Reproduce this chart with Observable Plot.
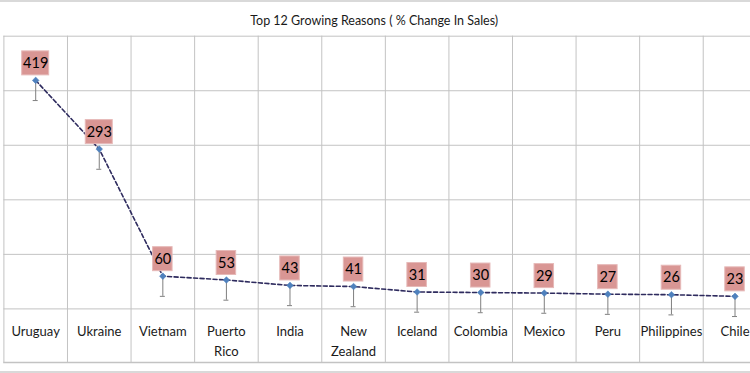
<!DOCTYPE html>
<html><head><meta charset="utf-8">
<script src="https://cdn.jsdelivr.net/npm/d3@7"></script>
<script src="https://cdn.jsdelivr.net/npm/@observablehq/plot@0.6"></script>
<style>
body{margin:0;background:#fff;}
#wrap{position:relative;width:750px;height:373px;overflow:hidden;background:#fff;}
#border{position:absolute;left:0;top:0;width:750px;height:373px;border-top:2px solid #d9d9d9;border-bottom:2px solid #d9d9d9;box-sizing:border-box;pointer-events:none}
</style></head><body>
<div id="wrap"><div id="chart"></div><div id="border"></div></div>
<script>
const title = "Top 12 Growing Reasons ( % Change In Sales)";
const categories = ["Uruguay","Ukraine","Vietnam","Puerto\nRico","India","New\nZealand","Iceland","Colombia","Mexico","Peru","Philippines","Chile"];
const values = [419,293,60,53,43,41,31,30,29,27,26,23];
const errors = [37,37,37,37,37,37,37,37,37,37,37,37];
const yTicks = [0,100,200,300,400,500];

const data = categories.map((c,i)=>({cat:c, value:values[i], err:errors[i]}));
const font = "Lato, 'Open Sans', sans-serif";
const xRange = [3.4, 766.3];
const bw = (xRange[1]-xRange[0])/categories.length;
const grid = "#c3c3c3";
const boxW3 = 27, boxW2 = 19.5;

const chart = Plot.plot({
  width: 750,
  height: 373,
  marginTop: 35.7,
  marginBottom: 11,
  marginLeft: 3.4,
  marginRight: 0,
  style: {fontFamily: font, background: "transparent", overflow: "hidden"},
  x: {type: "band", domain: categories, range: xRange, padding: 0, round: false, axis: null},
  y: {domain: [0, 500], range: [308.4, 35.7], axis: null},
  marks: [
    Plot.ruleY(yTicks, {stroke: grid, strokeWidth: 1}),
    Plot.ruleX(categories, {x: d => d, dx: -bw/2, stroke: grid, strokeWidth: 1}),
    Plot.frame({anchor: "bottom", stroke: grid, strokeWidth: 1.5}),
    Plot.text([title], {frameAnchor: "top", text: d => d, dy: -20.2, dx: -3, fontSize: 12.5, fill: "#1a1a1a"}),
    Plot.text(data, {x: "cat", text: "cat", frameAnchor: "bottom", lineAnchor: "top", dy: -40.5, fontSize: 13, lineHeight: 1.54, fill: "#1a1a1a"}),
    Plot.ruleX(data, {x: "cat", y1: "value", y2: d => d.value - d.err, stroke: "#7f7f7f", strokeWidth: 1}),
    Plot.tickY(data, {x: "cat", y: d => d.value - d.err, insetLeft: bw/2 - 2.5, insetRight: bw/2 - 2.5, stroke: "#7f7f7f", strokeWidth: 1}),
    Plot.line(data, {x: "cat", y: "value", stroke: "#2e2b5e", strokeWidth: 1.6, strokeDasharray: "4,2.5"}),
    Plot.dot(data, {x: "cat", y: "value", symbol: "diamond2", r: 3, fill: "#4f81bd", stroke: "#4f81bd", strokeWidth: 0.5}),
    Plot.barY(data.filter(d => String(d.value).length >= 3), {x: "cat", y1: "value", y2: "value", insetTop: -29, insetBottom: 5, insetLeft: (bw - boxW3)/2, insetRight: (bw - boxW3)/2, fill: "#d99694", stroke: "#e6b9b8", strokeWidth: 1}),
    Plot.barY(data.filter(d => String(d.value).length < 3), {x: "cat", y1: "value", y2: "value", insetTop: -29, insetBottom: 5, insetLeft: (bw - boxW2)/2, insetRight: (bw - boxW2)/2, fill: "#d99694", stroke: "#e6b9b8", strokeWidth: 1}),
    Plot.text(data, {x: "cat", y: "value", text: d => String(d.value), dy: -17, fontSize: 14.5, fill: "#000"})
  ]
});
document.getElementById("chart").appendChild(chart);
</script>
</body></html>
